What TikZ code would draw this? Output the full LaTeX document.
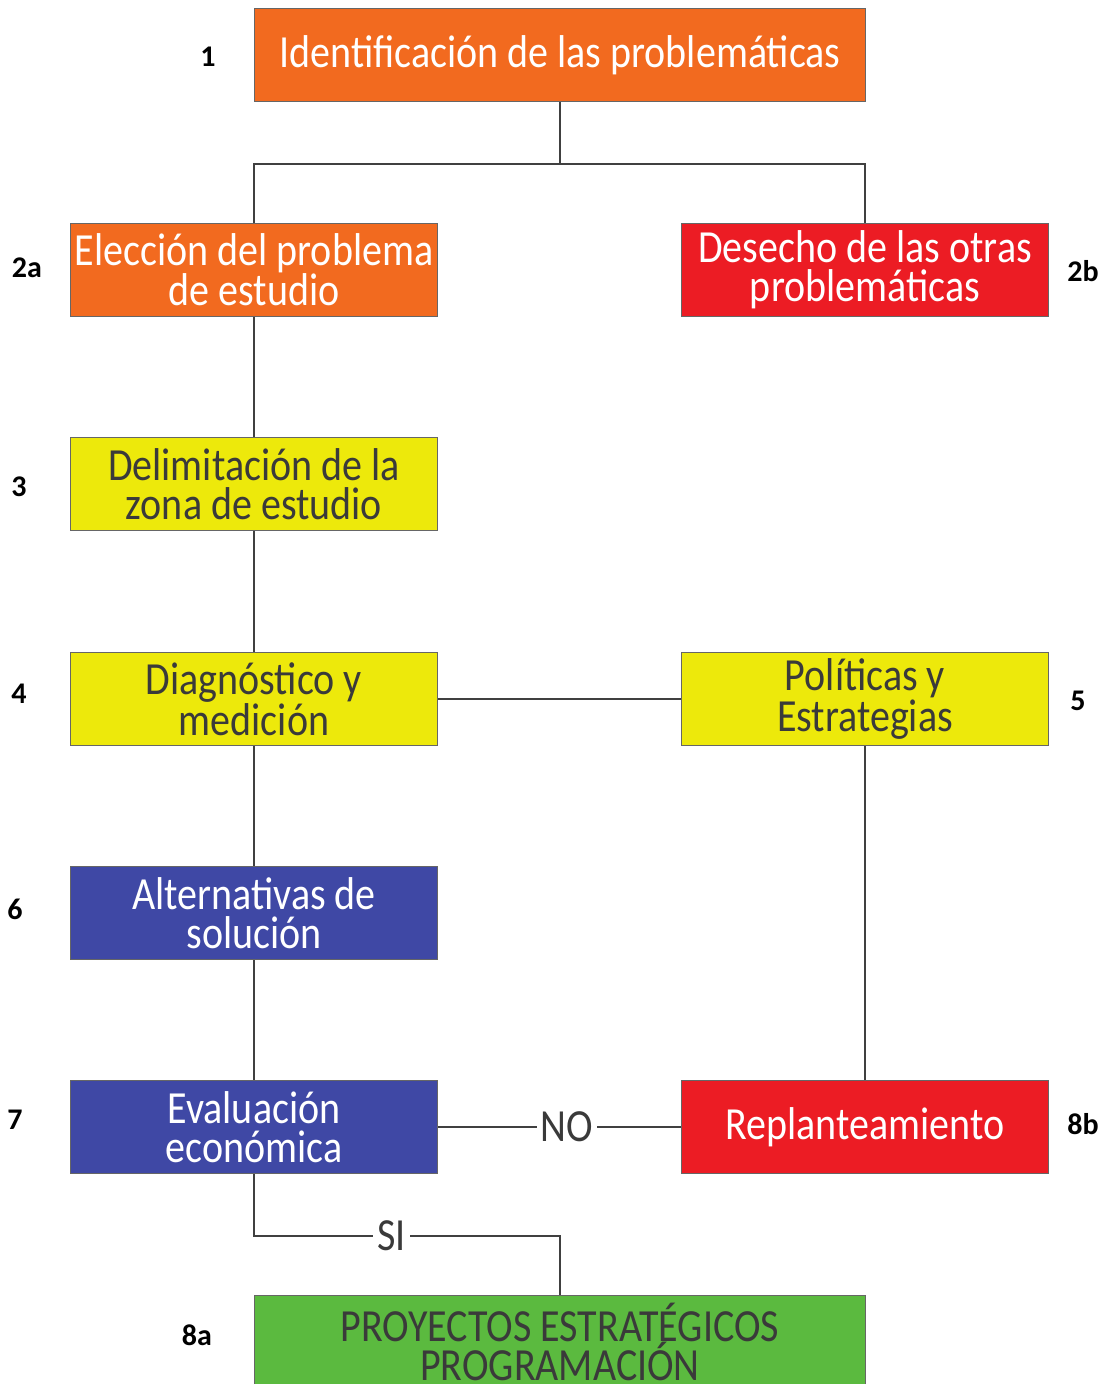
\documentclass[tikz,border=0pt]{standalone}
\usepackage{fontspec}
\setmainfont{Carlito}
\newfontfamily\boxfont[FakeStretch=0.87]{Carlito}
\usetikzlibrary{positioning}

\definecolor{naranja}{HTML}{F26A1F}
\definecolor{rojo}{HTML}{EC1C24}
\definecolor{amarillo}{HTML}{EDE90B}
\definecolor{azul}{HTML}{3F48A5}
\definecolor{verde}{HTML}{5BBA3F}
\definecolor{gristexto}{HTML}{3A3A3A}
\definecolor{grislinea}{HTML}{404040}

\begin{document}
\begin{tikzpicture}[x=1pt,y=-1pt,
      proc/.style={draw=grislinea!80,line width=1pt,rectangle,minimum width=367pt,minimum height=93pt,
        inner sep=0pt,align=center,font=\boxfont\fontsize{46}{39}\selectfont},
      nlabel/.style={font=\fontsize{30}{30}\selectfont\bfseries,text=black},
      tlabel/.style={fill=white,inner sep=4pt,font=\boxfont\fontsize{46}{39}\selectfont,text=gristexto},
      conn/.style={draw=grislinea,line width=1.4pt},
    ]
    \useasboundingbox (0,0) rectangle (1106,1384);

    % cajas
    \node[proc,fill=naranja,text=white,minimum width=611pt] (ident) at (560,55) {Identificación de las problemáticas};
    \node[proc,fill=naranja,text=white] (eleccion) at (254,270) {Elección del problema\\de estudio};
    \node[proc,fill=rojo,text=white] (desecho) at (865,270) {Desecho de las otras\\problemáticas};
    \node[proc,fill=amarillo,text=gristexto] (delim) at (254,484) {Delimitación de la\\zona de estudio};
    \node[proc,fill=amarillo,text=gristexto] (diag) at (254,699) {Diagnóstico y\\medición};
    \node[proc,fill=amarillo,text=gristexto] (polit) at (865,699) {Políticas y\\Estrategias};
    \node[proc,fill=azul,text=white] (altern) at (254,913) {Alternativas de\\solución};
    \node[proc,fill=azul,text=white] (eval) at (254,1127) {Evaluación\\económica};
    \node[proc,fill=rojo,text=white] (replan) at (865,1127) {Replanteamiento};
    \node[proc,fill=verde,text=gristexto,minimum width=611pt] (proy) at (560,1342) {PROYECTOS ESTRATÉGICOS\\PROGRAMACIÓN};

    % numeros
    \node[nlabel] (n1) at (208,57) {1};
    \node[nlabel] (n2a) at (27,268) {2a};
    \node[nlabel] (n2b) at (1083,271) {2b};
    \node[nlabel] (n3) at (19,487) {3};
    \node[nlabel] (n4) at (19,694) {4};
    \node[nlabel] (n5) at (1078,701) {5};
    \node[nlabel] (n6) at (15,909) {6};
    \node[nlabel] (n7) at (15,1120) {7};
    \node[nlabel] (n8b) at (1083,1124) {8b};
    \node[nlabel] (n8a) at (197,1335) {8a};

    % conectores
    \draw[conn] (ident.south) -- ++(0,62) -| (eleccion.north);
    \draw[conn] (ident.south) -- ++(0,62) -| (desecho.north);
    \draw[conn] (eleccion) -- (delim);
    \draw[conn] (delim) -- (diag);
    \draw[conn] (diag) -- (altern);
    \draw[conn] (altern) -- (eval);
    \draw[conn] (diag) -- (polit);
    \draw[conn] (polit) -- (replan);
    \draw[conn] (eval.east) -- node[tlabel,pos=0.53] {NO} (replan.west);
    \draw[conn] (eval.south) -- ++(0,62) -| node[tlabel,pos=0.225] {SI} (proy.north);
\end{tikzpicture}
\end{document}
